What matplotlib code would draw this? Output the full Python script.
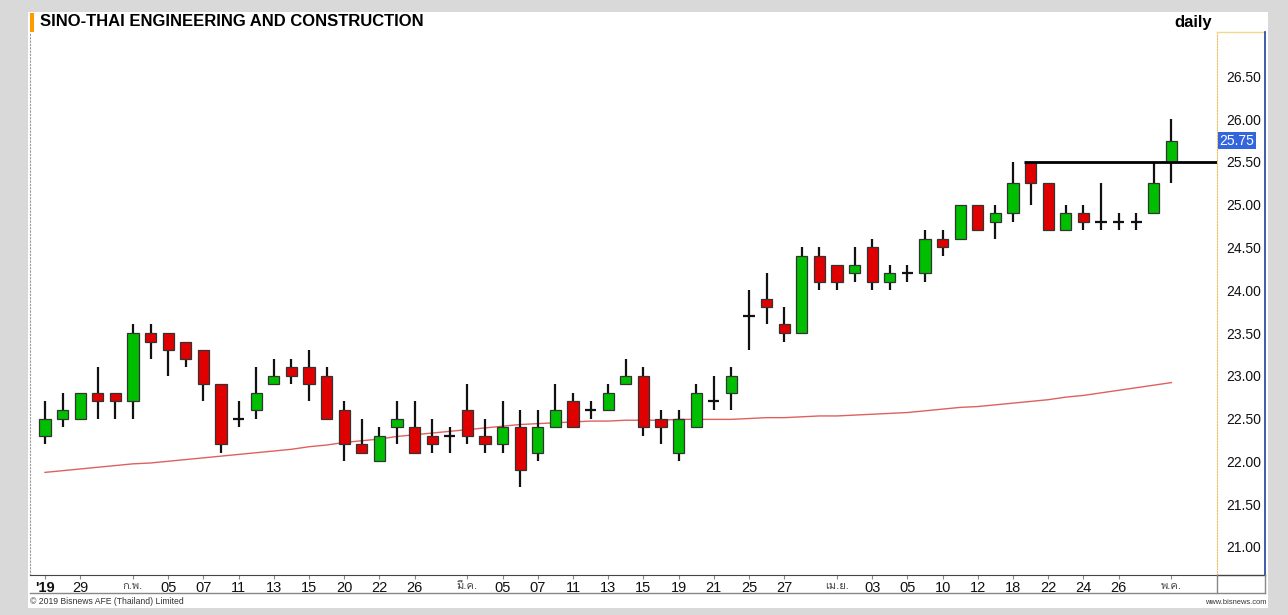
import sys
import matplotlib
matplotlib.use("Agg")
import matplotlib.pyplot as plt
from matplotlib import font_manager, ticker
from matplotlib.ft2font import FT2Font
from matplotlib.patches import Rectangle
from matplotlib.lines import Line2D

# daily prices, STEC, 25 Jan - 2 May 2019
dates = [
    "01-25", "01-28", "01-29", "01-30", "01-31", "02-01", "02-04", "02-05",
    "02-06", "02-07", "02-08", "02-11", "02-12", "02-13", "02-14", "02-15",
    "02-18", "02-20", "02-21", "02-22", "02-25", "02-26", "02-27", "02-28",
    "03-01", "03-04", "03-05", "03-06", "03-07", "03-08", "03-11", "03-12",
    "03-13", "03-14", "03-15", "03-18", "03-19", "03-20", "03-21", "03-22",
    "03-25", "03-26", "03-27", "03-28", "03-29", "04-01", "04-02", "04-03",
    "04-04", "04-05", "04-09", "04-10", "04-11", "04-12", "04-17", "04-18",
    "04-19", "04-22", "04-23", "04-24", "04-25", "04-26", "04-29", "04-30",
    "05-02",
]
opens = [
    22.3, 22.5, 22.5, 22.8, 22.8, 22.7, 23.5, 23.5, 23.4, 23.3, 22.9, 22.5,
    22.6, 22.9, 23.1, 23.1, 23.0, 22.6, 22.2, 22.0, 22.4, 22.4, 22.3, 22.3,
    22.6, 22.3, 22.2, 22.4, 22.1, 22.4, 22.7, 22.6, 22.6, 22.9, 23.0, 22.5,
    22.1, 22.4, 22.7, 22.8, 23.7, 23.9, 23.6, 23.5, 24.4, 24.3, 24.2, 24.5,
    24.1, 24.2, 24.2, 24.6, 24.6, 25.0, 24.8, 24.9, 25.5, 25.25, 24.7, 24.9,
    24.8, 24.8, 24.8, 24.9, 25.5,
]
highs = [
    22.7, 22.8, 22.8, 23.1, 22.8, 23.6, 23.6, 23.5, 23.4, 23.3, 22.9, 22.7,
    23.1, 23.2, 23.2, 23.3, 23.1, 22.7, 22.5, 22.4, 22.7, 22.7, 22.5, 22.4,
    22.9, 22.5, 22.7, 22.6, 22.6, 22.9, 22.8, 22.7, 22.9, 23.2, 23.1, 22.6,
    22.6, 22.9, 23.0, 23.1, 24.0, 24.2, 23.8, 24.5, 24.5, 24.3, 24.5, 24.6,
    24.3, 24.3, 24.7, 24.7, 25.0, 25.0, 25.0, 25.5, 25.5, 25.25, 25.0, 25.0,
    25.25, 24.9, 24.9, 25.5, 26.0,
]
lows = [
    22.2, 22.4, 22.5, 22.5, 22.5, 22.5, 23.2, 23.0, 23.1, 22.7, 22.1, 22.4,
    22.5, 22.9, 22.9, 22.7, 22.5, 22.0, 22.1, 22.0, 22.2, 22.1, 22.1, 22.1,
    22.2, 22.1, 22.1, 21.7, 22.0, 22.4, 22.4, 22.5, 22.6, 22.9, 22.3, 22.2,
    22.0, 22.4, 22.6, 22.6, 23.3, 23.6, 23.4, 23.5, 24.0, 24.0, 24.1, 24.0,
    24.0, 24.1, 24.1, 24.4, 24.6, 24.7, 24.6, 24.8, 25.0, 24.7, 24.7, 24.7,
    24.7, 24.7, 24.7, 24.9, 25.25,
]
closes = [
    22.5, 22.6, 22.8, 22.7, 22.7, 23.5, 23.4, 23.3, 23.2, 22.9, 22.2, 22.5,
    22.8, 23.0, 23.0, 22.9, 22.5, 22.2, 22.1, 22.3, 22.5, 22.1, 22.2, 22.3,
    22.3, 22.2, 22.4, 21.9, 22.4, 22.6, 22.4, 22.6, 22.8, 23.0, 22.4, 22.4,
    22.5, 22.8, 22.7, 23.0, 23.7, 23.8, 23.5, 24.4, 24.1, 24.1, 24.3, 24.1,
    24.2, 24.2, 24.6, 24.5, 25.0, 24.7, 24.9, 25.25, 25.25, 24.7, 24.9, 24.8,
    24.8, 24.8, 24.8, 25.25, 25.75,
]
# long moving average (red line)
ma_line = [
    21.87, 21.89, 21.91, 21.93, 21.95, 21.97, 21.98, 22.00, 22.02, 22.04,
    22.06, 22.08, 22.10, 22.12, 22.14, 22.17, 22.19, 22.22, 22.24, 22.26,
    22.29, 22.31, 22.33, 22.35, 22.37, 22.39, 22.41, 22.43, 22.44, 22.45,
    22.46, 22.47, 22.47, 22.48, 22.48, 22.48, 22.49, 22.49, 22.49, 22.49,
    22.50, 22.51, 22.51, 22.52, 22.53, 22.53, 22.54, 22.55, 22.56, 22.57,
    22.59, 22.61, 22.63, 22.64, 22.66, 22.68, 22.70, 22.72, 22.75, 22.77,
    22.80, 22.83, 22.86, 22.89, 22.92,
]
# date axis labels: (bar index, text)
tick_pos = [0, 2, 5, 7, 9, 11, 13, 15, 17, 19, 21, 24, 26, 28, 30, 32, 34,
            36, 38, 40, 42, 45, 47, 49, 51, 53, 55, 57, 59, 61, 64]
tick_text = ["'19", "29", "ก.พ.", "05", "07", "11", "13", "15", "20", "22",
             "26", "มี.ค.", "05", "07", "11", "13", "15", "19", "21", "25",
             "27", "เม.ย.", "03", "05", "10", "12", "18", "22", "24", "26",
             "พ.ค."]
resistance = 25.5
resistance_from = 56
last_price = 25.75
y_ticks = [21.0, 21.5, 22.0, 22.5, 23.0, 23.5, 24.0, 24.5, 25.0, 25.5, 26.0, 26.5]


def thai_family():
    # pick an installed family that has Thai glyphs
    found = []
    for f in font_manager.fontManager.ttflist:
        try:
            if 0x0E01 in FT2Font(f.fname).get_charmap():
                found.append(f.name)
        except Exception:
            pass
    print("thai fonts:", sorted(set(found)), file=sys.stderr)
    return found[0] if found else "DejaVu Sans"


W, H = 1288, 615
plt.rcParams["font.family"] = ["Liberation Sans", "DejaVu Sans"]
fig = plt.figure(figsize=(W / 100, H / 100), dpi=100, facecolor="#d9d9d9")


def fx(x):
    return x / W


def fy(y):
    return 1 - y / H


# white chart panel
fig.patches.append(Rectangle((fx(28), fy(608)), fx(1268) - fx(28), fy(12) - fy(608),
                             transform=fig.transFigure, facecolor="white",
                             edgecolor="none", zorder=-5))
fig.patches.append(Rectangle((fx(30), fy(32)), fx(4), fy(13) - fy(32),
                             transform=fig.transFigure, facecolor="#ff9900",
                             edgecolor="none", zorder=-4))

ax = fig.add_axes([fx(30), fy(575), fx(1217) - fx(30), fy(32) - fy(575)])
ax.set_facecolor("white")

n = len(opens)
xs = list(range(n))
ax.vlines(xs, lows, highs, color="#111111", linewidth=1.6, zorder=2)
for i in xs:
    o, c = opens[i], closes[i]
    if o == c:
        ax.hlines(o, i - 0.32, i + 0.32, color="#111111", linewidth=1.6, zorder=3)
    else:
        col = "#00bf00" if c > o else "#e00000"
        ax.bar(i, abs(c - o), bottom=min(o, c), width=0.64, color=col,
               edgecolor="#333333", linewidth=0.9, zorder=3)

ax.plot(xs, ma_line, color="#e06060", linewidth=1.0, zorder=1)
ax.hlines(resistance, resistance_from - 0.4, 66.6, color="black", linewidth=2, zorder=4)

ax.set_xlim(-0.852, 66.59)
ax.set_ylim(20.67, 27.02)

ax.yaxis.tick_right()
ax.set_yticks(y_ticks)
ax.yaxis.set_major_formatter(ticker.FormatStrFormatter("%.2f"))
ax.tick_params(axis="y", which="major", length=0, pad=6.5, labelsize=10, colors="#111111")
ax.yaxis.set_minor_locator(ticker.MultipleLocator(0.1))
ax.tick_params(axis="y", which="minor", length=0)

ax.set_xticks(tick_pos)
ax.set_xticklabels(tick_text)
ax.tick_params(axis="x", length=3, pad=1, labelsize=10.5, color="#888888",
               colors="#111111")
thai = thai_family()
for lab in ax.get_xticklabels():
    t = lab.get_text()
    if t == "'19":
        lab.set_fontweight("bold")
    elif "." in t:
        lab.set_fontfamily([thai, "DejaVu Sans"])
        lab.set_fontsize(8)
        lab.set_color("#444444")

ax.spines["top"].set_visible(False)
ax.spines["left"].set_color("#999999")
ax.spines["left"].set_linestyle((0, (1, 2)))
ax.spines["right"].set_color("#e8c060")
ax.spines["right"].set_linestyle((0, (1, 1.5)))
ax.spines["bottom"].set_color("#444444")

# last price marker on the price scale
ax.text(1.002, (last_price - 20.67) / (27.02 - 20.67), f"{last_price:.2f}",
        transform=ax.transAxes, ha="left", va="center", fontsize=10,
        color="white",
        bbox=dict(boxstyle="square,pad=0.12", facecolor="#3366dd", edgecolor="none"))

# frame lines around price scale and date row
fig.lines.append(Line2D([fx(1217), fx(1265)], [fy(32), fy(32)], color="#f0d890",
                        linewidth=1, transform=fig.transFigure))
fig.lines.append(Line2D([fx(1265), fx(1265)], [fy(32), fy(575)], color="#2040a0",
                        linewidth=1.2, transform=fig.transFigure))
fig.lines.append(Line2D([fx(1217), fx(1265)], [fy(575), fy(575)], color="#444444",
                        linewidth=1, transform=fig.transFigure))
fig.lines.append(Line2D([fx(30), fx(1265)], [fy(593), fy(593)], color="#888888",
                        linewidth=1, transform=fig.transFigure))
fig.lines.append(Line2D([fx(1217), fx(1217)], [fy(575), fy(593)], color="#888888",
                        linewidth=1, transform=fig.transFigure))
fig.lines.append(Line2D([fx(1265), fx(1265)], [fy(575), fy(593)], color="#888888",
                        linewidth=1, transform=fig.transFigure))

fig.text(fx(40), fy(22), "SINO-THAI ENGINEERING AND CONSTRUCTION", ha="left",
         va="center", fontsize=12, fontweight="bold")
fig.text(fx(1212), fy(23), "daily", ha="right", va="center", fontsize=12,
         fontweight="bold")
fig.text(fx(30), fy(601), "© 2019 Bisnews AFE (Thailand) Limited", ha="left",
         va="center", fontsize=6.2, color="#333333")
fig.text(fx(1266), fy(602), "www.bisnews.com", ha="right", va="center",
         fontsize=5.4, color="#333333")

fig.savefig("out.png", dpi=100, facecolor=fig.get_facecolor())
